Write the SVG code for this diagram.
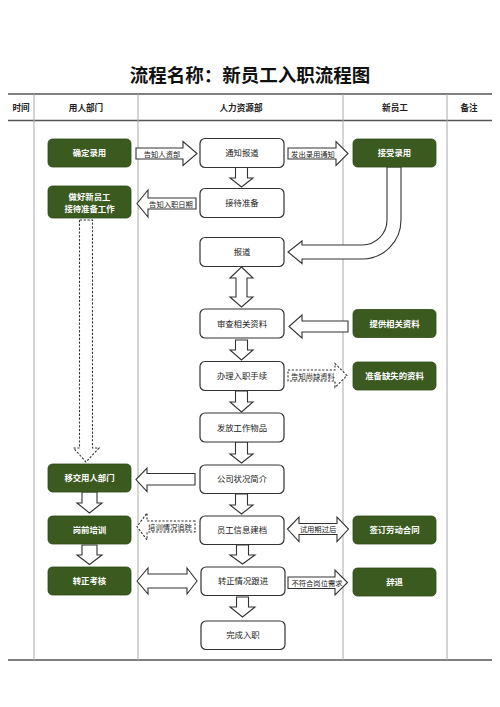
<svg xmlns="http://www.w3.org/2000/svg" width="500" height="707" viewBox="0 0 500 707">
<style>
text{font-family:"Noto Sans CJK SC","Noto Sans",sans-serif;text-anchor:middle}
.title{font-size:18.5px;font-weight:bold;fill:#111}
.hd{font-size:8.6px;font-weight:bold;fill:#222}
.hl{stroke:#555;stroke-width:1.3}
.vl{stroke:#aaa;stroke-width:1}
.g rect{fill:#3a5a1f;stroke:#2f4a18;stroke-width:0.8}
.g text{fill:#fff;font-size:8.4px;font-weight:bold}
.w rect{fill:#fff;stroke:#333;stroke-width:1.2}
.w text{fill:#222;font-size:8.4px}
.ar path{fill:#fff;stroke:#333;stroke-width:1.1;stroke-linejoin:miter}
.ar path.d{stroke-dasharray:2.2,1.6}
.ar text{fill:#222;font-size:7.3px}
</style>
<rect width="500" height="707" fill="#fff"/>
<text class="title" x="250" y="81.5">流程名称：新员工入职流程图</text>
<g id="table">
<line class="hl" x1="8" y1="94" x2="492" y2="94"/>
<line class="hl" x1="8" y1="120.5" x2="492" y2="120.5"/>
<line class="hl" x1="8" y1="660" x2="492" y2="660"/>
<line class="vl" x1="34" y1="94" x2="34" y2="660"/>
<line class="vl" x1="138" y1="94" x2="138" y2="660"/>
<line class="vl" x1="343" y1="94" x2="343" y2="660"/>
<line class="vl" x1="447" y1="94" x2="447" y2="660"/>
<text class="hd" x="21" y="110.5">时间</text>
<text class="hd" x="86" y="110.5">用人部门</text>
<text class="hd" x="241" y="110.5">人力资源部</text>
<text class="hd" x="395" y="110.5">新员工</text>
<text class="hd" x="469" y="110.5">备注</text>
</g>
<g id="connectors" class="ar">
<path d="M136,148 H183 V141.5 L197,153.5 L183,165.5 V159 H136 Z"/>
<text x="162" y="156.5">告知人资部</text>
<path d="M288,148 H336 V141.5 L348,153.5 L336,165.5 V159 H288 Z"/>
<text x="313" y="156.5">发出录用通知</text>
<path d="M196,198 H148 V190 L137,203.5 L148,217 V209 H196 Z"/>
<text x="171" y="206.5">告知入职日期</text>
<path d="M235.5,167 V178 H230 L241.5,187 L253,178 H247.5 V167 Z"/>
<path d="M387,167 V220 A25,25 0 0 1 362,245 H302 V241 L288,252 L302,263.5 V259 H362 A39,39 0 0 0 401,220 V167 Z"/>
<path d="M241.5,267 L253,278 H247 V297 H253 L241.5,307 L230,297 H236 V278 H230 Z"/>
<path d="M348,321 H302 V315 L289,326.5 L302,338 V332 H348 Z"/>
<path d="M235.5,340 V350 H230 L241.5,360 L253,350 H247.5 V340 Z"/>
<path d="M235.5,391 V402 H230 L241.5,412 L253,402 H247.5 V391 Z"/>
<path class="d" d="M288,370 H335 V363.5 L347,375.5 L335,387.5 V381 H288 Z"/>
<text x="313" y="378.5">告知尚缺资料</text>
<path d="M235.5,442 V454 H230 L241.5,463 L253,454 H247.5 V442 Z"/>
<path d="M195,473.5 H147 V468 L136,479.5 L147,491.5 V485 H195 Z"/>
<path d="M235.5,494 V505 H230 L241.5,514 L253,505 H247.5 V494 Z"/>
<path d="M82,492 V503 H77 L89.5,513 L102,503 H97 V492 Z"/>
<path d="M82,545 V555 H77 L89.5,564.5 L102,555 H97 V545 Z"/>
<path class="d" d="M195,521 H147 V513 L137,526.5 L147,540 V532 H195 Z"/>
<text x="170" y="529.5">培训情况追踪</text>
<path d="M287.5,529 L299,517 V523.5 H337 V517 L348.5,529 L337,541.5 V534.5 H299 V541.5 Z"/>
<text x="318" y="532">试用期过后</text>
<path d="M236.5,545 V555 H230 L242.5,564 L255,555 H248.5 V545 Z"/>
<path d="M137,581 L148,568 V574 H187 V568 L197,581 L187,594 V588 H148 V594 Z"/>
<path d="M288,577 H335 V570 L347.5,582.5 L335,595 V588.5 H288 Z"/>
<text x="317" y="585.5">不符合岗位需求</text>
<path d="M236.5,597 V607 H230 L242.5,617 L255,607 H248.5 V597 Z"/>
<path class="d" d="M79.5,220 V448 H73.5 L86,462 L99,448 H92.5 V220 Z"/>
</g>
<g id="n_qdly" class="g"><rect x="48" y="139" width="83" height="28" rx="4.5"/><text x="89.5" y="156">确定录用</text></g>
<g id="n_zhxyg" class="g"><rect x="48" y="186" width="83" height="32" rx="4.5"/><text x="89.5" y="199.5">做好新员工</text><text x="89.5" y="212">接待准备工作</text></g>
<g id="n_yjyrbm" class="g"><rect x="48" y="464" width="83" height="28" rx="4.5"/><text x="89.5" y="481">移交用人部门</text></g>
<g id="n_gqpx" class="g"><rect x="48" y="516" width="83" height="28" rx="4.5"/><text x="89.5" y="533">岗前培训</text></g>
<g id="n_zzkh" class="g"><rect x="48" y="567" width="83" height="28" rx="4.5"/><text x="89.5" y="584">转正考核</text></g>
<g id="n_tzbd" class="w"><rect x="200" y="138.5" width="84" height="29" rx="5"/><text x="242" y="156">通知报道</text></g>
<g id="n_jdzb" class="w"><rect x="200" y="188.5" width="84" height="29" rx="5"/><text x="242" y="206">接待准备</text></g>
<g id="n_bd" class="w"><rect x="200" y="237.5" width="84" height="29" rx="5"/><text x="242" y="255">报道</text></g>
<g id="n_scxgzl" class="w"><rect x="200" y="309" width="84" height="29" rx="5"/><text x="242" y="326.5">审查相关资料</text></g>
<g id="n_blrzsx" class="w"><rect x="200" y="361.5" width="84" height="29" rx="5"/><text x="242" y="379">办理入职手续</text></g>
<g id="n_ffgzwp" class="w"><rect x="200" y="413" width="84" height="29" rx="5"/><text x="242" y="430.5">发放工作物品</text></g>
<g id="n_gszkjj" class="w"><rect x="200" y="465" width="84" height="28.5" rx="5"/><text x="242" y="482">公司状况简介</text></g>
<g id="n_ygxxjd" class="w"><rect x="200" y="516" width="84" height="28.5" rx="5"/><text x="242" y="533">员工信息建档</text></g>
<g id="n_zzqkgj" class="w"><rect x="201" y="567" width="84" height="28.5" rx="5"/><text x="243" y="584">转正情况跟进</text></g>
<g id="n_wcrz" class="w"><rect x="201" y="621" width="84" height="28.5" rx="5"/><text x="243" y="638">完成入职</text></g>
<g id="n_jsly" class="g"><rect x="353" y="139" width="83" height="28" rx="4.5"/><text x="394.5" y="156">接受录用</text></g>
<g id="n_tgxgzl" class="g"><rect x="353" y="309.5" width="83" height="28" rx="4.5"/><text x="394.5" y="326.5">提供相关资料</text></g>
<g id="n_zbqszl" class="g"><rect x="353" y="362" width="83" height="28" rx="4.5"/><text x="394.5" y="379">准备缺失的资料</text></g>
<g id="n_qdldht" class="g"><rect x="353" y="516" width="83" height="28" rx="4.5"/><text x="394.5" y="533">签订劳动合同</text></g>
<g id="n_ct" class="g"><rect x="353" y="568" width="83" height="28" rx="4.5"/><text x="394.5" y="585">辞退</text></g>
</svg>
